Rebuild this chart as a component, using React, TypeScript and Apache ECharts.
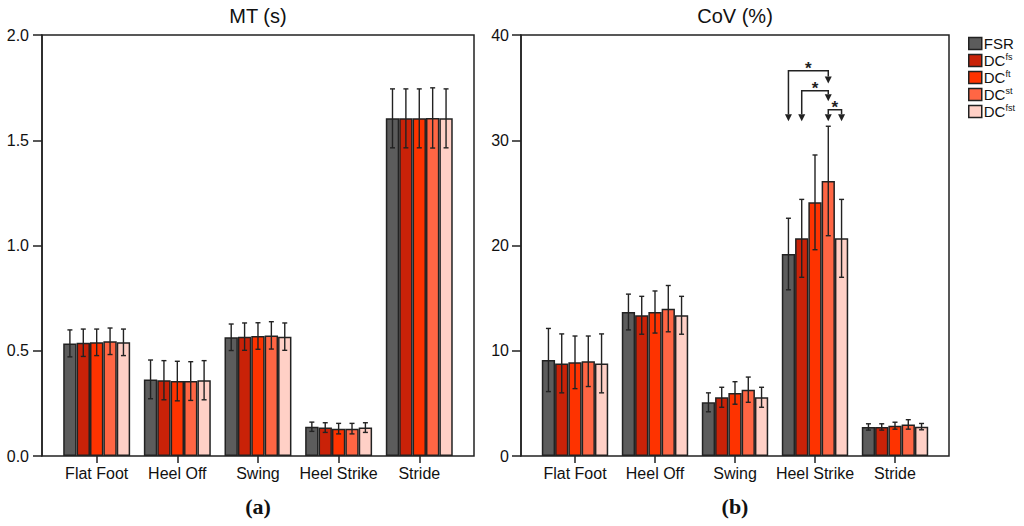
import React, { useEffect, useRef } from 'react';
import * as echarts from 'echarts';

// gait phases on the x axis
const categories = ['Flat Foot', 'Heel Off', 'Swing', 'Heel Strike', 'Stride'];
const seriesNames = ['FSR', 'DCfs', 'DCft', 'DCst', 'DCfst'];

// MT (s): mean and sd, one row per series, one column per phase
const mtMean = [
  [0.535, 0.364, 0.564, 0.139, 1.604],
  [0.538, 0.36, 0.567, 0.135, 1.604],
  [0.54, 0.356, 0.57, 0.13, 1.604],
  [0.545, 0.356, 0.573, 0.13, 1.606],
  [0.54, 0.36, 0.567, 0.135, 1.604],
];
const mtSd = [
  [0.064, 0.092, 0.063, 0.022, 0.14],
  [0.065, 0.093, 0.065, 0.023, 0.14],
  [0.063, 0.094, 0.063, 0.025, 0.14],
  [0.063, 0.092, 0.065, 0.025, 0.143],
  [0.063, 0.093, 0.065, 0.023, 0.14],
];

// CoV (%)
const covMean = [
  [9.12, 13.68, 5.1, 19.19, 2.76],
  [8.8, 13.37, 5.58, 20.68, 2.76],
  [8.9, 13.68, 5.99, 24.1, 2.88],
  [9.0, 14.0, 6.3, 26.13, 3.0],
  [8.8, 13.37, 5.58, 20.68, 2.79],
];
const covSd = [
  [3.0, 1.7, 0.9, 3.4, 0.3],
  [2.8, 1.8, 0.95, 3.7, 0.3],
  [2.5, 2.0, 1.07, 4.5, 0.33],
  [2.4, 2.2, 1.2, 5.2, 0.45],
  [2.8, 1.8, 0.95, 3.7, 0.3],
];

// significance brackets: [category, fromSeries, toSeries, level, leftArrowTip, rightArrowTip]
const sigBrackets = [
  [3, 0, 3, 36.6, 31.8, 35.4],
  [3, 1, 3, 34.7, 31.8, 33.7],
  [3, 3, 4, 32.9, 31.8, 31.8],
];

const mtTicks = { min: 0, max: 2, interval: 0.5 };
const covTicks = { min: 0, max: 40, interval: 10 };

const COLORS = ['#5c5c5c', '#c92208', '#fe3300', '#ff6644', '#ffd0c6'];
const INK = '#222';
const FONT = 'Liberation Sans, Arial, Helvetica, sans-serif';
const CAT_GAP = 0.17;

const barOffset = (api: any, cat: number, s: number, v: number) => {
  const band = api.size([1, 0])[0];
  const bw = (band * (1 - CAT_GAP)) / seriesNames.length;
  return api.coord([cat, v])[0] + (s - (seriesNames.length - 1) / 2) * bw;
};

const errorBars = (mean: number[][], sd: number[][], axisIdx: number) => {
  const data: number[][] = [];
  mean.forEach((row, s) => row.forEach((m, c) => data.push([c, s, m, sd[s][c]])));
  return {
    type: 'custom',
    xAxisIndex: axisIdx,
    yAxisIndex: axisIdx,
    z: 5,
    silent: true,
    encode: { x: 0, y: 2 },
    data,
    renderItem: (params: any, api: any) => {
      const c = api.value(0);
      const s = api.value(1);
      const m = api.value(2);
      const d = api.value(3);
      const x = barOffset(api, c, s, m);
      const yt = api.coord([c, m + d])[1];
      const yb = api.coord([c, m - d])[1];
      const cap = 2.5;
      const style = { stroke: INK, lineWidth: 1.4 };
      return {
        type: 'group',
        children: [
          { type: 'line', shape: { x1: x, y1: yt, x2: x, y2: yb }, style },
          { type: 'line', shape: { x1: x - cap, y1: yt, x2: x + cap, y2: yt }, style },
          { type: 'line', shape: { x1: x - cap, y1: yb, x2: x + cap, y2: yb }, style },
        ],
      };
    },
  };
};

const App: React.FC = () => {
  const chartRef = useRef<HTMLDivElement>(null);

  useEffect(() => {
    const chart = echarts.init(chartRef.current!, null, { renderer: 'svg' });

    const frameGrid = (left: number, right: number) => ({
      left, right, top: 35, bottom: 70,
      show: true, borderColor: INK, borderWidth: 1.5, backgroundColor: 'transparent',
    });
    const barGrid = (left: number, right: number) => ({ left, right, top: 35, bottom: 70 });

    const valueAxis = (gridIndex: number, t: any, digits: number, margin: number) => ({
      gridIndex,
      type: 'value',
      min: t.min,
      max: t.max,
      interval: t.interval,
      axisLine: { show: true, lineStyle: { color: INK, width: 1.5 } },
      axisTick: { show: true, length: 9, lineStyle: { color: INK, width: 1.5 } },
      axisLabel: {
        color: '#111', fontSize: 16, fontFamily: FONT, margin,
        formatter: (v: number) => v.toFixed(digits),
      },
      splitLine: { show: false },
    });
    const hiddenValue = (gridIndex: number, t: any) => ({
      gridIndex, type: 'value', min: t.min, max: t.max, show: false,
    });
    const catAxis = (gridIndex: number) => ({
      gridIndex,
      type: 'category',
      data: categories,
      axisLine: { show: false },
      axisTick: { show: true, length: 7, alignWithLabel: true, lineStyle: { color: INK, width: 1.5 } },
      axisLabel: { color: '#111', fontSize: 16, fontFamily: FONT, margin: 9, interval: 0 },
    });

    const bars = (mean: number[][], axisIdx: number) =>
      mean.map((row, s) => ({
        name: seriesNames[s],
        type: 'bar',
        xAxisIndex: axisIdx,
        yAxisIndex: axisIdx,
        barGap: '0%',
        barCategoryGap: `${CAT_GAP * 100}%`,
        itemStyle: { color: COLORS[s], borderColor: INK, borderWidth: 1.5 },
        data: row,
      }));

    const brackets = {
      type: 'custom',
      xAxisIndex: 3,
      yAxisIndex: 3,
      z: 6,
      silent: true,
      clip: false,
      encode: { x: 0, y: 3 },
      data: sigBrackets,
      renderItem: (params: any, api: any) => {
        const c = api.value(0);
        const a = api.value(1);
        const b = api.value(2);
        const lv = api.value(3);
        const xa = barOffset(api, c, a, lv);
        const xb = barOffset(api, c, b, lv);
        const yl = api.coord([c, lv])[1];
        const ya = api.coord([c, api.value(4)])[1];
        const yb = api.coord([c, api.value(5)])[1];
        const ah = 7;
        const aw = 3.5;
        const arrow = (x: number, y: number) => ({
          type: 'polygon',
          shape: { points: [[x - aw, y - ah], [x + aw, y - ah], [x, y]] },
          style: { fill: INK },
        });
        return {
          type: 'group',
          children: [
            {
              type: 'polyline',
              shape: { points: [[xa, ya - ah], [xa, yl], [xb, yl], [xb, yb - ah]] },
              style: { stroke: INK, lineWidth: 1.5, fill: 'none' },
            },
            arrow(xa, ya),
            arrow(xb, yb),
            {
              type: 'text',
              x: (xa + xb) / 2,
              y: yl - 2,
              style: {
                text: '*', font: `bold 17px ${FONT}`, fill: INK,
                align: 'center', verticalAlign: 'middle',
              },
            },
          ],
        };
      },
    };

    const textEl = (text: string, x: number, y: number, font: string) => ({
      type: 'text', x, y,
      style: { text, font, fill: '#111', align: 'center', verticalAlign: 'middle' },
    });

    chart.setOption({
      animation: false,
      backgroundColor: '#fff',
      grid: [frameGrid(42, 550), barGrid(56.35, 564.4), frameGrid(521, 75), barGrid(535, 89)],
      xAxis: [
        { gridIndex: 0, type: 'value', min: 0, max: 1, show: false },
        catAxis(1),
        { gridIndex: 2, type: 'value', min: 0, max: 1, show: false },
        catAxis(3),
      ],
      yAxis: [
        valueAxis(0, mtTicks, 1, 13),
        hiddenValue(1, mtTicks),
        valueAxis(2, covTicks, 0, 12),
        hiddenValue(3, covTicks),
      ],
      legend: {
        data: seriesNames,
        orient: 'vertical',
        left: 968,
        top: 36,
        padding: 0,
        icon: 'rect',
        itemWidth: 13,
        itemHeight: 12,
        itemGap: 1.5,
        selectedMode: false,
        itemStyle: { borderColor: INK, borderWidth: 1.5 },
        formatter: (name: string) =>
          name === 'FSR' ? '{n|FSR}' : `{n|DC}{s|${name.slice(2)}}`,
        textStyle: {
          color: '#111',
          fontFamily: FONT,
          padding: [0, 0, 0, -3],
          rich: {
            n: { fontSize: 15, lineHeight: 16, fontFamily: FONT, color: '#111' },
            s: { fontSize: 9, lineHeight: 9, fontFamily: FONT, color: '#111', verticalAlign: 'top' },
          },
        },
      },
      graphic: [
        textEl('MT (s)', 258, 16, `20px ${FONT}`),
        textEl('CoV (%)', 735, 16, `20px ${FONT}`),
        textEl('(a)', 258, 506, 'bold 22px Liberation Serif, Times New Roman, serif'),
        textEl('(b)', 735, 506, 'bold 22px Liberation Serif, Times New Roman, serif'),
      ],
      series: [
        ...bars(mtMean, 1),
        ...bars(covMean, 3),
        errorBars(mtMean, mtSd, 1),
        errorBars(covMean, covSd, 3),
        brackets,
      ],
    });

    return () => {
      chart.dispose();
    };
  }, []);

  return (
    <div
      ref={chartRef}
      style={{ position: 'absolute', left: 0, top: 0, width: 1024, height: 526 }}
    />
  );
};

export default App;
